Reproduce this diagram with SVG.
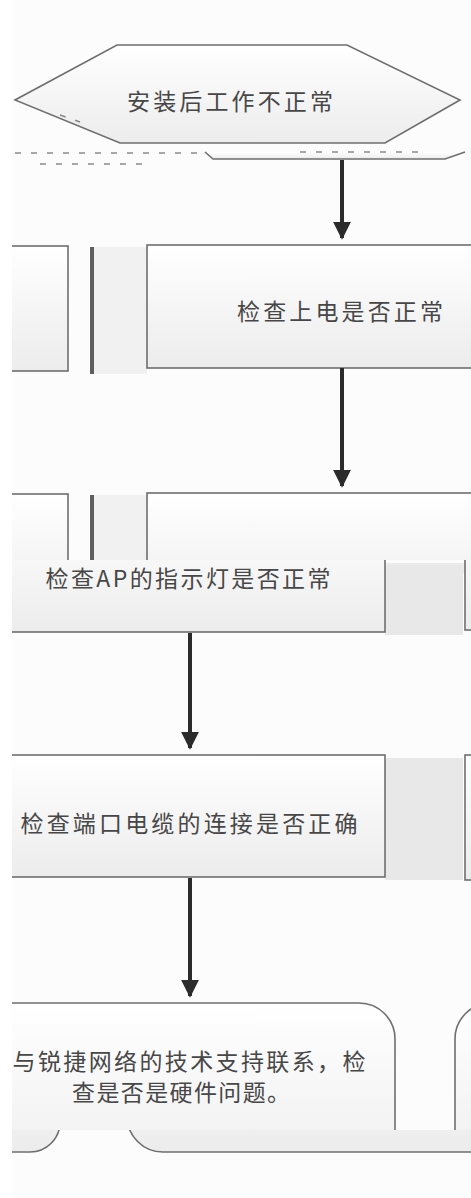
<svg xmlns="http://www.w3.org/2000/svg" width="471" height="1198" viewBox="0 0 471 1198">
<defs>
<linearGradient id="g" x1="0" y1="0" x2="0" y2="1">
<stop offset="0" stop-color="#ffffff"/>
<stop offset="1" stop-color="#ececec"/>
</linearGradient>
<marker id="ah" viewBox="0 0 10 10" refX="9" refY="5" markerWidth="4.5" markerHeight="4.5" orient="auto" markerUnits="strokeWidth">
<path d="M0,0 L10,5 L0,10 z" fill="#2b2b2b"/>
</marker>
<clipPath id="c3a"><rect x="12" y="480" width="459" height="80"/></clipPath>
<clipPath id="c3b"><rect x="12" y="560" width="459" height="90"/></clipPath>
<clipPath id="c5a"><rect x="12" y="990" width="459" height="140"/></clipPath>
<clipPath id="c5b"><rect x="12" y="1130" width="459" height="40"/></clipPath>
<clipPath id="cl"><rect x="12" y="0" width="459" height="1198"/></clipPath>
</defs>
<style>
.n{fill:url(#g);stroke:#6e6e6e;stroke-width:1.6}
.gap{fill:#e8e8e8}
.gap2{fill:#f1f1f1}
.bar{fill:#5e5e5e}
.t{font-family:"Noto Sans CJK SC","Noto Sans",sans-serif;font-size:23px;fill:#474747;dominant-baseline:central}
.e{fill:none;stroke:#2b2b2b;stroke-width:4}
.noise{fill:none;stroke:#8a8a8a;stroke-width:1.5;stroke-dasharray:6 10}
</style>
<rect x="0" y="0" width="471" height="1198" fill="#ffffff"/>
<rect x="12" y="0" width="459" height="1198" fill="#fcfcfc"/>

<g id="n1">
<polygon class="n" points="117,45 347,45 460,100 385,143 120,143 15,100"/>
<path class="n" d="M205,152 L213,159 L445,159 L465,152" fill="none"/>
<path class="noise" d="M15,153 L200,153 M40,164 L150,164 M300,152 L420,152 M60,115 L80,122"/>
<text class="t" x="230" y="100" text-anchor="middle" textLength="206" lengthAdjust="spacing">安装后工作不正常</text>
</g>

<g id="n2" clip-path="url(#cl)">
<rect class="gap2" x="94" y="247" width="53" height="127"/>
<rect class="n" x="-5" y="246" width="73" height="125"/>
<rect class="bar" x="90" y="247" width="4" height="127"/>
<rect class="n" x="147" y="245" width="330" height="123"/>
<text class="t" x="340" y="310" text-anchor="middle" textLength="206" lengthAdjust="spacing">检查上电是否正常</text>
</g>

<g id="n3">
<g clip-path="url(#c3a)">
<rect class="gap2" x="94" y="495" width="53" height="127"/>
<rect class="n" x="-5" y="494" width="73" height="125"/>
<rect class="bar" x="90" y="495" width="4" height="127"/>
<rect class="n" x="147" y="493" width="330" height="123"/>
</g>
<g clip-path="url(#c3b)">
<rect x="12" y="563" width="459" height="10" fill="#ececec"/>
<rect class="gap" x="385" y="565" width="78" height="70"/>
<rect class="n" x="-5" y="510" width="390" height="122"/>
<rect class="n" x="465" y="510" width="30" height="120"/>
</g>
<text class="t" x="188" y="577" text-anchor="middle" textLength="285" lengthAdjust="spacing">检查AP的指示灯是否正常</text>
</g>

<g id="n4" clip-path="url(#cl)">
<rect class="gap" x="385" y="758" width="78" height="122"/>
<rect class="n" x="-5" y="755" width="390" height="122"/>
<rect class="n" x="465" y="755" width="30" height="125"/>
<text class="t" x="189" y="822" text-anchor="middle" textLength="337" lengthAdjust="spacing">检查端口电缆的连接是否正确</text>
</g>

<g id="n5">
<g clip-path="url(#c5a)">
<rect class="n" x="-40" y="1003" width="435" height="200" rx="36"/>
<rect class="n" x="455" y="1003" width="100" height="200" rx="36"/>
</g>
<g clip-path="url(#c5b)">
<rect class="n" x="-40" y="1000" width="100" height="152" rx="30"/>
<rect class="n" x="127" y="1000" width="400" height="152" rx="36"/>
</g>
<text class="t" x="189" y="1060" text-anchor="middle" textLength="353" lengthAdjust="spacing">与锐捷网络的技术支持联系，检</text>
<text class="t" x="181" y="1091" text-anchor="middle" textLength="218" lengthAdjust="spacing">查是否是硬件问题。</text>
</g>

<g id="edges">
<line class="e" x1="342" y1="160" x2="342" y2="238" marker-end="url(#ah)"/>
<line class="e" x1="342" y1="368" x2="342" y2="486" marker-end="url(#ah)"/>
<line class="e" x1="190" y1="633" x2="190" y2="748" marker-end="url(#ah)"/>
<line class="e" x1="190" y1="878" x2="190" y2="996" marker-end="url(#ah)"/>
</g>
</svg>
